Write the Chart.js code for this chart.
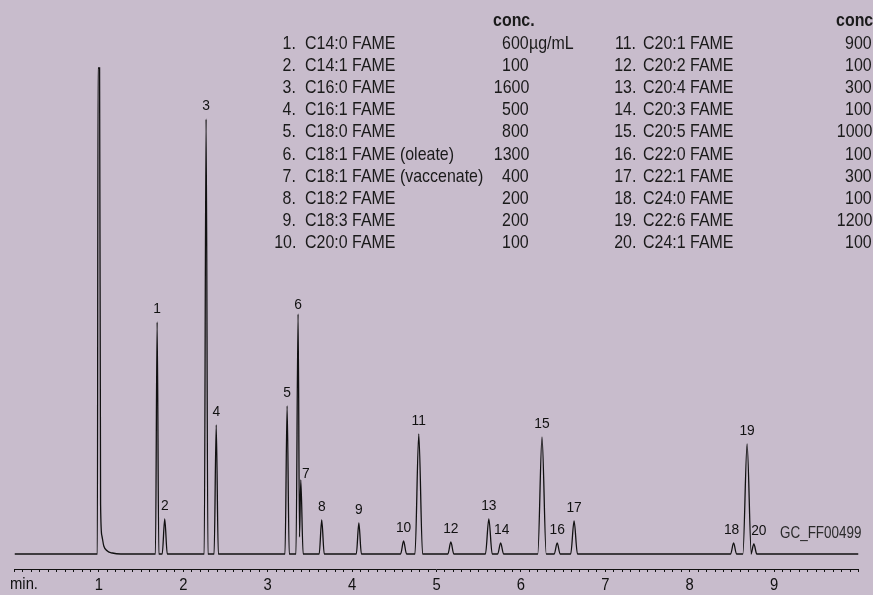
<!DOCTYPE html>
<html><head><meta charset="utf-8">
<script src="https://cdn.jsdelivr.net/npm/chart.js@4"></script>
<style>
html,body{margin:0;padding:0;background:#c8bccc;}
#wrap{position:relative;width:873px;height:595px;overflow:hidden;background:#c8bccc;}
#c{position:absolute;left:0;top:0;}
.t{position:absolute;font-family:"Liberation Sans",Arial,sans-serif;font-size:19px;color:#1a1a1a;white-space:nowrap;line-height:22px;height:22px;transform:scaleX(0.84);transform-origin:left center;}
.t.r{transform-origin:right center;text-align:right;}
.b{font-weight:bold;}
</style></head>
<body><div id="wrap"><canvas id="c" width="873" height="595"></canvas><div id="legend"></div></div>
<script>
// ---- data ----
const compoundNames = ["C14:0 FAME","C14:1 FAME","C16:0 FAME","C16:1 FAME","C18:0 FAME",
  "C18:1 FAME (oleate)","C18:1 FAME (vaccenate)","C18:2 FAME","C18:3 FAME","C20:0 FAME",
  "C20:1 FAME","C20:2 FAME","C20:4 FAME","C20:3 FAME","C20:5 FAME",
  "C22:0 FAME","C22:1 FAME","C24:0 FAME","C22:6 FAME","C24:1 FAME"];
const compoundConc = [600,100,1600,500,800,1300,400,200,200,100,900,100,300,100,1000,100,300,100,1200,100];
const concUnit = "\u00b5g/mL";
const concHeader = "conc.";

const peakLabels  = ["1","2","3","4","5","6","7","8","9","10","11","12","13","14","15","16","17","18","19","20"];
const peakTimes   = [1.69,1.78,2.27,2.39,3.23,3.36,3.392,3.64,4.08,4.61,4.79,5.17,5.62,5.76,6.25,6.43,6.63,8.52,8.68,8.76];
const peakHeights = [232,35,435,129,148,240,74,34,31,13,120,12,35,11,117,11,33,11,110,10];

// chromatogram trace (retention time in min, detector signal)
const traceTime = [0,0.982,0.99,1.008,1.02,1.036,1.058,1.1,1.16,1.26,
  1.67,1.69,1.71, 1.75,1.78,1.81, 2.248,2.27,2.292, 2.365,2.39,2.415,
  3.205,3.23,3.255, 3.335,3.36,3.377,3.392,3.42, 3.61,3.64,3.67, 4.05,4.08,4.11,
  4.575,4.61,4.645, 4.745,4.79,4.835, 5.135,5.17,5.205, 5.58,5.62,5.66, 5.725,5.76,5.795,
  6.2,6.25,6.3, 6.395,6.43,6.465, 6.59,6.63,6.67, 8.485,8.52,8.555, 8.63,8.68,8.73, 8.725,8.76,8.795, 10];
const traceSignal = [0,0,486,486,50,18,8,3,1,0,
  0,232,0, 0,35,0, 0,435,0, 0,129,0,
  0,148,0, 0,240,17,74,0, 0,34,0, 0,31,0,
  0,13,0, 0,120,0, 0,12,0, 0,35,0, 0,11,0,
  0,117,0, 0,11,0, 0,33,0, 0,11,0, 0,110,0, 0,10,0, 0];

const axisTicks = [1,2,3,4,5,6,7,8,9];
const axisUnitLabel = "min.";
const sampleId = "GC_FF00499";

// ---- legend table (HTML text) ----
const legend = document.getElementById('legend');
function addText(txt, x, yc, align, cls){
  const d = document.createElement('div');
  d.className = 't' + (align === 'right' ? ' r' : '') + (cls ? ' ' + cls : '');
  d.textContent = txt;
  d.style.top = (yc - 11) + 'px';
  if (align === 'right') d.style.right = (873 - x) + 'px';
  else d.style.left = x + 'px';
  legend.appendChild(d);
  return d;
}
const cols = [{numR:296, name:305, concR:529, head:493}, {numR:636.5, name:643, concR:872, head:836}];
cols.forEach((c, ci) => {
  addText(concHeader, c.head, 20, 'left', 'b');
  for (let k = 0; k < 10; k++) {
    const i = ci * 10 + k;
    const yc = 42.5 + 22.2 * k;
    addText((i + 1) + '.', c.numR, yc, 'right');
    addText(compoundNames[i], c.name, yc, 'left');
    addText(String(compoundConc[i]), c.concR, yc, 'right');
    if (i === 0) addText(concUnit, c.concR, yc, 'left');
  }
});
const sid = addText(sampleId, 780, 533, 'left');
sid.style.fontSize = '16px';
sid.style.color = '#2a2a2a';

// ---- chart ----
const FONT = '"Liberation Sans",Arial,sans-serif';
function condensed(ctx, k, fn){
  const of = ctx.fillText;
  ctx.fillText = function(t, x, y){ this.save(); this.translate(x, y); this.scale(k, 1); of.call(this, t, 0, 0); this.restore(); };
  try { fn(); } finally { ctx.fillText = of; }
}
const labelShift = {"6":[0,4], "7":[5,7], "14":[1,0], "18":[-2,0], "20":[5,0]};
const peakLabelPlugin = {
  id: 'peakLabels',
  beforeDraw(chart) {
    const xs = chart.scales.x;
    if (!xs._condPatched) {
      const orig = xs.drawLabels;
      xs.drawLabels = function(area){ condensed(this.ctx, 0.87, () => orig.call(this, area)); };
      xs._condPatched = true;
    }
  },
  afterDatasetsDraw(chart) {
    const ctx = chart.ctx, xs = chart.scales.x, ys = chart.scales.y;
    ctx.save();
    ctx.font = '15px ' + FONT;
    ctx.fillStyle = '#111';
    ctx.textAlign = 'center';
    ctx.textBaseline = 'middle';
    condensed(ctx, 0.92, () => {
      peakLabels.forEach((lab, i) => {
        const s = labelShift[lab] || [0,0];
        const x = xs.getPixelForValue(peakTimes[i]) + s[0];
        const y = ys.getPixelForValue(peakHeights[i]) - 13 + s[1];
        ctx.fillText(lab, x, y);
      });
    });
    ctx.font = '17px ' + FONT;
    condensed(ctx, 0.87, () => {
      ctx.fillText(axisUnitLabel, xs.getPixelForValue(0) + 9.5, chart.chartArea.bottom + 15);
    });
    ctx.restore();
  }
};

new Chart(document.getElementById('c'), {
  type: 'line',
  data: {
    datasets: [{
      data: traceTime.map((t, i) => ({x: t, y: traceSignal[i]})),
      borderColor: '#111',
      borderWidth: 1.3,
      pointRadius: 0,
      fill: false,
      cubicInterpolationMode: 'monotone'
    }]
  },
  options: {
    responsive: false,
    animation: false,
    devicePixelRatio: 1,
    layout: {padding: {left: 14.5, right: 14.5, top: 0, bottom: 0}},
    plugins: {legend: {display: false}, tooltip: {enabled: false}},
    scales: {
      x: {
        type: 'linear', min: 0, max: 10,
        afterFit(scale) { scale.height = 26; },
        ticks: {
          stepSize: 0.1, autoSkip: false, maxRotation: 0, padding: 3,
          color: '#111', font: {family: FONT, size: 17},
          callback(v) {
            const r = Math.round(v);
            return (Math.abs(v - r) < 1e-6 && axisTicks.includes(r)) ? String(r) : '';
          }
        },
        grid: {drawOnChartArea: false, drawTicks: true, tickLength: 3, color: '#111', lineWidth: 1},
        border: {display: true, color: '#111', width: 1}
      },
      y: {display: false, min: -15, max: 554}
    }
  },
  plugins: [peakLabelPlugin]
});
</script>
</body></html>
